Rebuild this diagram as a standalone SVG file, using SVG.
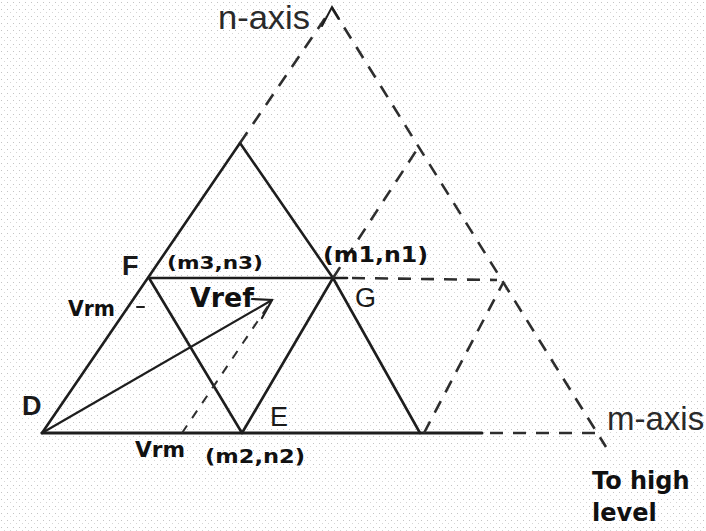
<svg xmlns="http://www.w3.org/2000/svg" width="706" height="531" viewBox="0 0 706 531">
  <defs>
    <pattern id="dots" width="6" height="7" patternUnits="userSpaceOnUse">
      <rect x="1" y="2" width="1" height="1" fill="#c4c4c4"/>
      <rect x="4" y="5" width="1" height="1" fill="#d6d6d6"/>
    </pattern>
    <style>
      .solid { stroke: #1e1e1e; stroke-width: 2.6; fill: none; stroke-linecap: round; }
      .dash { stroke: #2e2e2e; stroke-width: 2.6; fill: none; stroke-dasharray: 13 10; }
      .axis { font-family: "Liberation Sans", Arial, sans-serif; font-size: 33px; fill: #2a2a2a; }
      .lbl { font-family: "DejaVu Sans", "Liberation Sans", sans-serif; font-weight: bold; fill: #111; }
      .pt { font-family: "Liberation Sans", Arial, sans-serif; font-size: 27px; fill: #1a1a1a; }
    </style>
  </defs>
  <rect width="706" height="531" fill="#ffffff"/>
  <rect width="706" height="531" fill="url(#dots)"/>

  <g id="connectors">
    <line class="solid" x1="42" y1="433" x2="482" y2="433" style="stroke-width:3"/>
    <line class="solid" x1="42" y1="433" x2="240" y2="143"/>
    <polyline class="solid" points="240,143 333,278 420,433"/>
    <line class="solid" x1="149" y1="278" x2="347" y2="278"/>
    <line class="solid" x1="149" y1="278" x2="242" y2="433"/>
    <line class="solid" x1="242" y1="433" x2="333" y2="278"/>
    <line class="solid" x1="42" y1="433" x2="272" y2="300" style="stroke-width:2.2"/>
    <polyline class="solid" points="252,299 272,300 262,318" style="stroke-width:2.2"/>
    <line class="dash" x1="182" y1="433" x2="272" y2="300" style="stroke-dasharray:9 9;stroke-width:2"/>
    <line class="solid" x1="137" y1="307" x2="144" y2="307" style="stroke-width:2"/>
    <line class="dash" x1="240" y1="143" x2="328" y2="14"/>
    <line class="dash" x1="332" y1="8" x2="606" y2="447"/>
    <polyline class="solid" points="322,26 332,7 339,19" style="stroke-width:2"/>
    <line class="dash" x1="352" y1="278" x2="497" y2="280"/>
    <line class="dash" x1="333" y1="278" x2="418" y2="148"/>
    <line class="dash" x1="424" y1="433" x2="503" y2="283"/>
    <line class="dash" x1="490" y1="433" x2="600" y2="433"/>
  </g>

  <g id="axis-n"><text class="axis" x="218" y="29" font-size="29" textLength="92" lengthAdjust="spacingAndGlyphs">n-axis</text></g>
  <g id="axis-m"><text class="axis" x="607" y="430">m-axis</text></g>
  <g id="to-high-level">
    <text class="lbl" x="592" y="489" font-size="24">To high</text>
    <text class="lbl" x="592" y="521" font-size="24">level</text>
  </g>
  <g id="node-D"><text class="pt" x="22" y="415" font-weight="bold">D</text></g>
  <g id="node-F"><text class="pt" x="122" y="275" font-weight="bold">F</text></g>
  <g id="node-G"><text class="pt" x="355" y="307">G</text></g>
  <g id="node-E"><text class="pt" x="270" y="426">E</text></g>
  <g id="m3n3"><text class="lbl" x="167" y="269" font-size="17" textLength="96" lengthAdjust="spacingAndGlyphs">(m3,n3)</text></g>
  <g id="m1n1"><text class="lbl" x="323" y="262" font-size="22" textLength="105" lengthAdjust="spacingAndGlyphs">(m1,n1)</text></g>
  <g id="m2n2"><text class="lbl" x="205" y="463" font-size="19" textLength="100" lengthAdjust="spacingAndGlyphs">(m2,n2)</text></g>
  <g id="vrm-base"><text class="lbl" x="135" y="457" font-size="22" textLength="50" lengthAdjust="spacingAndGlyphs">Vrm</text></g>
  <g id="vrm-side"><text class="lbl" x="68" y="316" font-size="21" textLength="47" lengthAdjust="spacingAndGlyphs">Vrm</text></g>
  <g id="vref"><text class="lbl" x="190" y="307" font-size="26" textLength="64" lengthAdjust="spacingAndGlyphs">Vref</text></g>
</svg>
